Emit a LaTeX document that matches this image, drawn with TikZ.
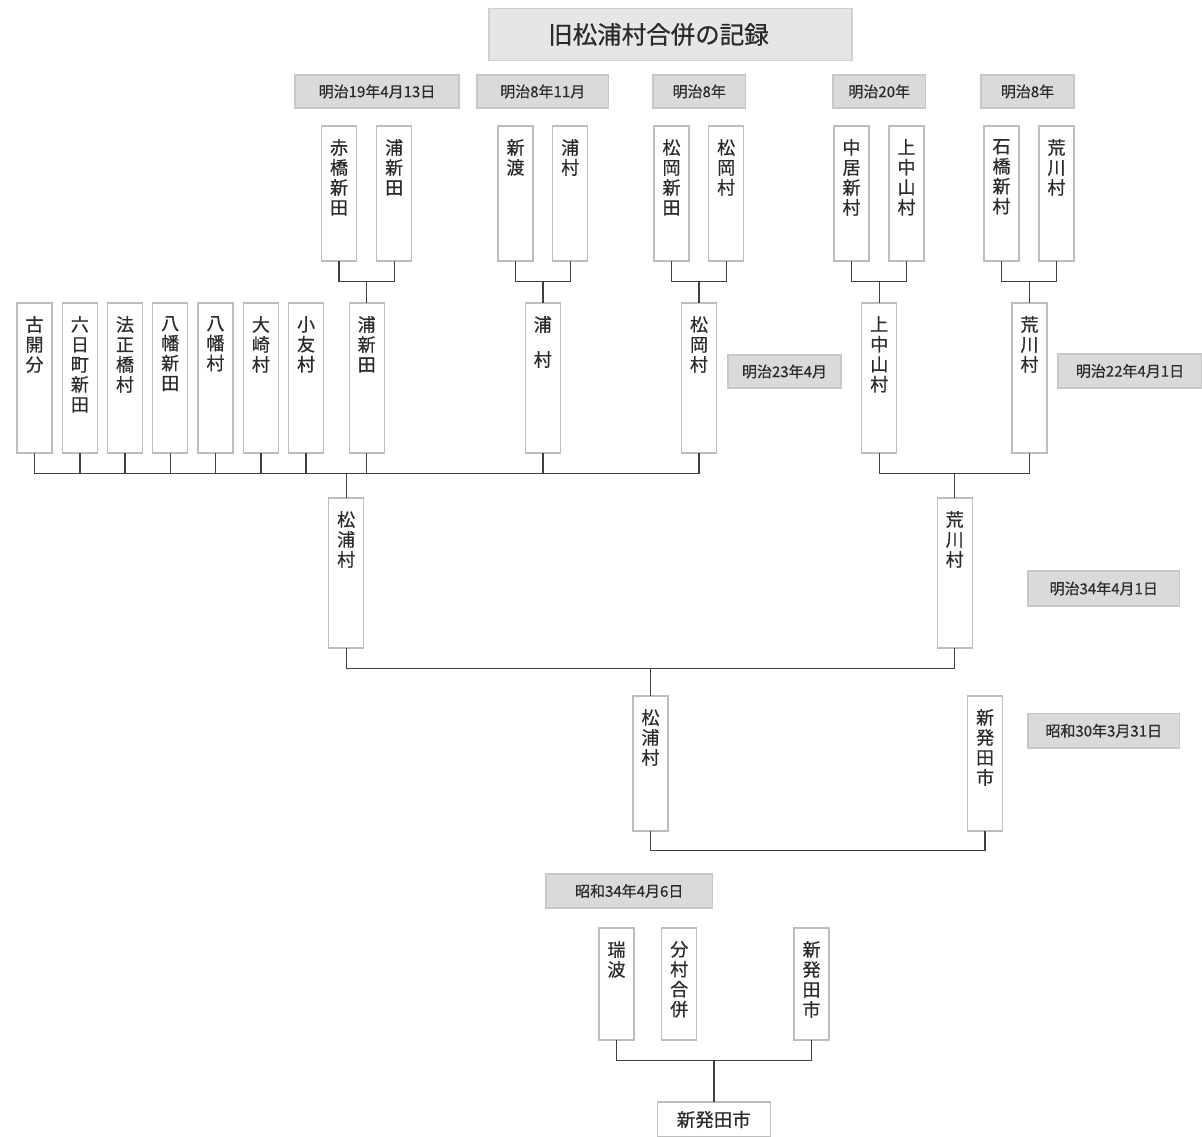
\documentclass[tikz,border=0pt]{standalone}
\usepackage{fontspec}
\newfontfamily\cjk[FakeBold=0.6]{Noto Sans CJK JP}
\definecolor{boxline}{HTML}{BDBDBD}
\definecolor{labfill}{HTML}{DADADA}
\definecolor{labline}{HTML}{C8C8C8}
\definecolor{titfill}{HTML}{E6E6E6}
\definecolor{titline}{HTML}{D0D0D0}
\definecolor{conline}{HTML}{404040}
\definecolor{txt}{HTML}{2B2B2B}
\tikzset{
  vbx/.style={draw=boxline, fill=white, line width=1.2pt, anchor=north west, minimum width=35pt, inner sep=0pt, outer sep=0pt},
  vt/.style={anchor=north, align=center, inner sep=0pt, text=txt, font=\cjk\fontsize{18}{20}\selectfont},
  lab/.style={draw=labline, fill=labfill, line width=1.2pt, anchor=north west, inner sep=0pt, outer sep=0pt, text=txt, font=\cjk\fontsize{15}{18}\selectfont},
  tit/.style={draw=titline, fill=titfill, line width=1.5pt, anchor=north west, inner sep=0pt, outer sep=0pt},
  titt/.style={inner sep=0pt, text=txt, font=\cjk\fontsize{24.5}{28}\selectfont},
  ln/.style={draw=conline, line width=1.4pt}
}
% name, x, y, height, text
\newcommand\VB[5]{%
  \node[vbx, minimum height=#4pt] (#1) at (#2,#3) {};
  \node[vt] (#1-t) at ([yshift=-13pt]#1.north) {#5};}
% name, x1, y1, x2, y2, text
\newcommand\LB[6]{%
  \node[lab, minimum width={(#4-#2)*1pt}, minimum height={(#5-#3)*1pt}] (#1) at (#2,#3) {#6};}
\begin{document}
\begin{tikzpicture}[x=1pt,y=-1pt]
\useasboundingbox (0,0) rectangle (1202,1137);
\fill[white] (0,0) rectangle (1202,1137);
\clip (0,0) rectangle (1202,1137);

% title
\node[tit, minimum width=363pt, minimum height=52pt] (title) at (489,8.5) {};
\node[titt] (title-t) at ([xshift=-12pt]title.center) {旧松浦村合併の記録};

% date labels
\LB{L1}{295}{75}{459}{108}{明治19年4月13日}
\LB{L2}{477}{75}{608.5}{108}{明治8年11月}
\LB{L3}{653}{75}{745.5}{108}{明治8年}
\LB{L4}{833}{75}{925.5}{108}{明治20年}
\LB{L5}{981}{75}{1074}{108}{明治8年}
\LB{L6}{728}{355}{841}{388}{明治23年4月}
\LB{L7}{1058}{354}{1202}{388}{明治22年4月1日}
\LB{L8}{1028}{571}{1179.5}{606}{明治34年4月1日}
\LB{L9}{1028}{713.5}{1179.5}{748}{昭和30年3月31日}
\LB{L10}{546}{874}{712.5}{908}{昭和34年4月6日}

% top row
\VB{a1}{321.5}{126}{135}{赤\\橋\\新\\田}
\VB{a2}{376.7}{126}{135}{浦\\新\\田}
\VB{b1}{498}{126}{135}{新\\渡}
\VB{b2}{552.7}{126}{135}{浦\\村}
\VB{c1}{654}{126}{135}{松\\岡\\新\\田}
\VB{c2}{708.7}{126}{135}{松\\岡\\村}
\VB{d1}{834}{126}{135}{中\\居\\新\\村}
\VB{d2}{889}{126}{135}{上\\中\\山\\村}
\VB{e1}{984}{126}{135}{石\\橋\\新\\村}
\VB{e2}{1039}{126}{135}{荒\\川\\村}

% middle row
\VB{m1}{17}{303}{150}{古\\開\\分}
\VB{m2}{62.4}{303}{150}{六\\日\\町\\新\\田}
\VB{m3}{107.5}{303}{150}{法\\正\\橋\\村}
\VB{m4}{152.7}{303}{150}{八\\幡\\新\\田}
\VB{m5}{198}{303}{150}{八\\幡\\村}
\VB{m6}{243.4}{303}{150}{大\\崎\\村}
\VB{m7}{288.6}{303}{150}{小\\友\\村}
\VB{m8}{349.2}{303}{150}{浦\\新\\田}
\VB{m9}{525.3}{303}{150}{浦\\[15pt]村}
\VB{m10}{681.5}{303}{150}{松\\岡\\村}
\VB{m11}{861.8}{303}{150}{上\\中\\山\\村}
\VB{m12}{1012}{303}{150}{荒\\川\\村}

% third row
\VB{t1}{328.7}{498}{150}{松\\浦\\村}
\VB{t2}{937.2}{498}{150}{荒\\川\\村}

% fourth row
\VB{f1}{633}{696}{135}{松\\浦\\村}
\VB{f2}{967.6}{696}{135}{新\\発\\田\\市}

% fifth row
\VB{g1}{599}{928}{112}{瑞\\波}
\VB{g2}{661.7}{928}{112}{分\\村\\合\\併}
\VB{g3}{794}{928}{112}{新\\発\\田\\市}

% final
\node[vbx, minimum width=113pt, minimum height=35pt, font=\cjk\fontsize{18.5}{20}\selectfont, text=txt] (fin) at (657.3,1102) {新発田市};

% bus levels
\path (0,281.7) coordinate (yA) (0,473.7) coordinate (yB) (0,668.7) coordinate (yC)
      (0,850.7) coordinate (yD) (0,1060.3) coordinate (yE);

% top pairs
\draw[ln] (a1.south) |- (m8.north |- yA) -- (m8.north);
\draw[ln] (a2.south) |- (m8.north |- yA);
\draw[ln] (b1.south) |- (m9.north |- yA) -- (m9.north);
\draw[ln] (b2.south) |- (m9.north |- yA);
\draw[ln] (c1.south) |- (m10.north |- yA) -- (m10.north);
\draw[ln] (c2.south) |- (m10.north |- yA);
\draw[ln] (d1.south) |- (m11.north |- yA) -- (m11.north);
\draw[ln] (d2.south) |- (m11.north |- yA);
\draw[ln] (e1.south) |- (m12.north |- yA) -- (m12.north);
\draw[ln] (e2.south) |- (m12.north |- yA);

% middle buses
\foreach \n in {m1,m2,m3,m4,m5,m6,m7,m8,m9,m10}
  \draw[ln] (\n.south) |- (t1.north |- yB);
\draw[ln] (t1.north |- yB) -- (t1.north);
\draw[ln] (m11.south) |- (t2.north |- yB) -- (t2.north);
\draw[ln] (m12.south) |- (t2.north |- yB);

% third bus
\draw[ln] (t1.south) |- (f1.north |- yC) -- (f1.north);
\draw[ln] (t2.south) |- (f1.north |- yC);

% fourth bus
\draw[ln] (f1.south) |- (f2.south |- yD) -- (f2.south);

% fifth bus
\draw[ln] (g1.south) |- (fin.north |- yE) -- (fin.north);
\draw[ln] (g3.south) |- (fin.north |- yE);
\end{tikzpicture}
\end{document}
